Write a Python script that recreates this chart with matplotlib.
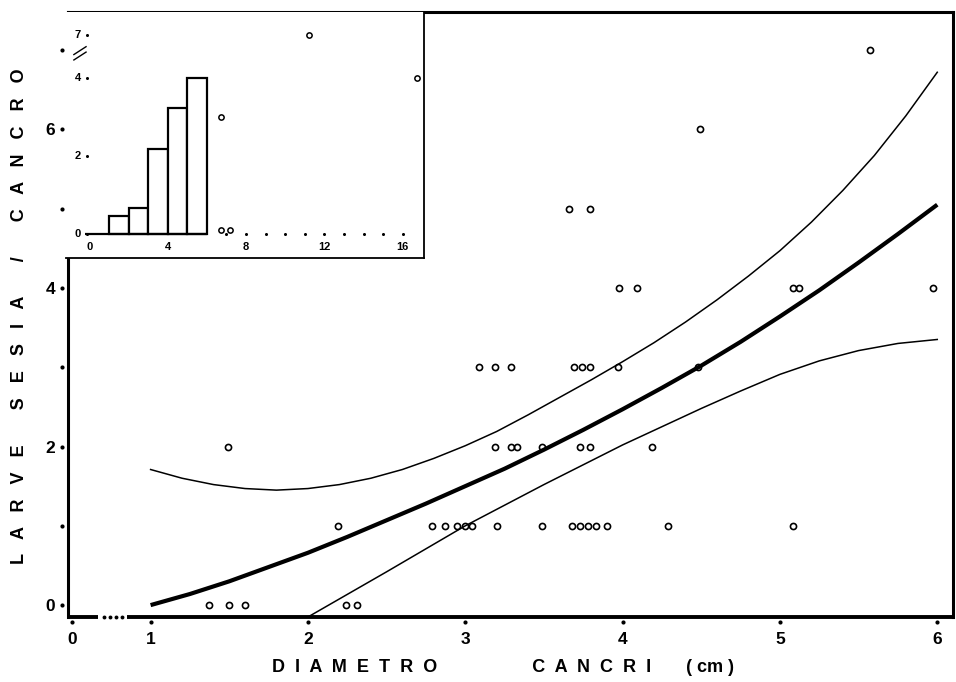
import numpy as np
import matplotlib
matplotlib.use("Agg")
import matplotlib.pyplot as plt

plt.rcParams['font.family'] = ['Liberation Sans', 'DejaVu Sans']

# Dati: diametro del cancro (cm) e larve di Sesia per cancro
diametro = [1.37, 1.50, 1.60, 2.24, 2.31,
            2.19, 2.79, 2.87, 2.95, 3.00, 3.04, 3.20, 3.49, 3.68, 3.73, 3.78, 3.83, 3.90, 4.29, 5.08,
            1.49, 3.19, 3.29, 3.33, 3.49, 3.73, 3.79, 4.19,
            3.09, 3.19, 3.29, 3.69, 3.74, 3.79, 3.97, 4.48,
            3.98, 4.09, 5.08, 5.12, 5.97,
            3.66, 3.79,
            4.49,
            5.57]
larve = [0, 0, 0, 0, 0,
         1, 1, 1, 1, 1, 1, 1, 1, 1, 1, 1, 1, 1, 1, 1,
         2, 2, 2, 2, 2, 2, 2, 2,
         3, 3, 3, 3, 3, 3, 3, 3,
         4, 4, 4, 4, 4,
         5, 5,
         6,
         7]

# curva di regressione e limiti di confidenza
curva_x = [1.0, 1.25, 1.5, 1.75, 2.0, 2.25, 2.5, 2.75, 3.0, 3.25, 3.5, 3.75, 4.0,
           4.25, 4.5, 4.75, 5.0, 5.25, 5.5, 5.75, 6.0]
curva_y = [0.0, 0.14, 0.30, 0.48, 0.66, 0.86, 1.07, 1.28, 1.50, 1.72, 1.96, 2.21, 2.47,
           2.74, 3.02, 3.32, 3.64, 3.97, 4.32, 4.68, 5.05]
sup_x = [1.0, 1.2, 1.4, 1.6, 1.8, 2.0, 2.2, 2.4, 2.6, 2.8, 3.0, 3.2, 3.4, 3.6, 3.8,
         4.0, 4.2, 4.4, 4.6, 4.8, 5.0, 5.2, 5.4, 5.6, 5.8, 6.0]
sup_y = [1.71, 1.60, 1.52, 1.47, 1.45, 1.47, 1.52, 1.60, 1.71, 1.85, 2.01, 2.19, 2.40, 2.62, 2.84,
         3.07, 3.31, 3.57, 3.85, 4.15, 4.47, 4.83, 5.23, 5.67, 6.17, 6.72]
inf_x = [2.0, 2.5, 3.0, 3.5, 4.0, 4.5, 4.75, 5.0, 5.25, 5.5, 5.75, 6.0]
inf_y = [-0.15, 0.42, 1.00, 1.52, 2.02, 2.48, 2.70, 2.91, 3.08, 3.21, 3.30, 3.35]

tick_x = [0, 1, 2, 3, 4, 5, 6]
tick_y = [0, 1, 2, 3, 4, 5, 6, 7]
etichette_y = [0, 2, 4, 6]

# riquadro piccolo (istogramma)
classi = [1, 2, 3, 4, 5]
medie = [0.47, 0.67, 2.19, 3.25, 4.03]
ins_x = [6.7, 6.7, 7.2, 11.2, 16.7]
ins_y = [3.0, 0.1, 0.1, 7.0, 4.0]
ins_tick_x = [0, 4, 8, 12, 16]
ins_tick_y = [0, 2, 4, 7]
ins_punti_asse = [7, 8, 9, 10, 11, 12, 13, 14, 15, 16]


def comprimi(x):
    # asse interrotto: da 0 a 1 occupa mezza unita
    x = np.asarray(x, dtype=float)
    return np.where(x < 1, 0.5 + 0.5 * x, x)


def espandi(d):
    d = np.asarray(d, dtype=float)
    return np.where(d < 1, (d - 0.5) * 2, d)


def taglia_y(y):
    y = np.asarray(y, dtype=float)
    return np.where(y <= 4, y, 4 + (y - 4) * 1.1 / 3)


def rimetti_y(d):
    d = np.asarray(d, dtype=float)
    return np.where(d <= 4, d, 4 + (d - 4) * 3 / 1.1)


fig = plt.figure(figsize=(9.56, 6.82), dpi=100, facecolor='white')
ax = fig.add_axes([68/956, 1-617/682, 885/956, 605/682])
ax.set_xscale('function', functions=(comprimi, espandi))
ax.set_xlim(-0.05, 6.10)
ax.set_ylim(-0.15, 7.48)

ax.plot(curva_x, curva_y, color='black', lw=3.0, solid_capstyle='butt', zorder=2)
ax.plot(sup_x, sup_y, color='black', lw=1.1, zorder=2)
ax.plot(inf_x, inf_y, color='black', lw=1.1, zorder=2)
ax.plot(diametro, larve, 'o', ms=4.4, mfc='none', mec='black', mew=1.2, ls='none', zorder=3)

# tacche a puntino
ax.set_xticks(tick_x)
ax.set_xticklabels([str(t) for t in tick_x])
ax.set_yticks(etichette_y)
ax.set_yticklabels([str(t) for t in etichette_y])
ax.minorticks_off()
ax.tick_params(length=0, labelsize=12.5)
ax.tick_params(axis='x', pad=11)
ax.tick_params(axis='y', pad=9)
for lab in ax.get_xticklabels() + ax.get_yticklabels():
    lab.set_fontweight('bold')
ax.plot(tick_x, [-0.009] * len(tick_x), 'o', ms=3.0, color='black', mew=0,
        transform=ax.get_xaxis_transform(), clip_on=False)
ax.plot([-0.007] * len(tick_y), tick_y, 'o', ms=3.0, color='black', mew=0,
        transform=ax.get_yaxis_transform(), clip_on=False)

# cornice spessa, asse x interrotto vicino a 0
for lato in ['top', 'right', 'left']:
    ax.spines[lato].set_linewidth(2.2)
ax.spines['bottom'].set_visible(False)
ax.plot([0, 0.034], [0, 0], color='black', lw=2.8, transform=ax.transAxes, clip_on=False,
        solid_capstyle='butt')
ax.plot([0.067, 1.0], [0, 0], color='black', lw=2.8, transform=ax.transAxes, clip_on=False,
        solid_capstyle='butt')
ax.plot([0.0405, 0.0475, 0.0545, 0.0610], [0, 0, 0, 0], 'o', ms=2.8, mew=0, color='black',
        transform=ax.transAxes, clip_on=False)

fig.text(503/956, 1-668/682, 'D  I  A  M  E  T  R  O' + ' ' * 19 + 'C  A  N  C  R  I' + ' ' * 7 + '( cm )',
         ha='center', va='center', fontsize=13, fontweight='bold')
fig.text(20/956, 1-316/682, 'L   A   R   V   E' + ' ' * 7 + 'S   E   S   I   A' + ' ' * 7 + '/' + ' ' * 7
         + 'C   A   N   C   R   O', ha='center', va='center', rotation=90, fontsize=13, fontweight='bold')

# riquadro in alto a sinistra
axi = fig.add_axes([66/956, 1-258/682, 358/956, 246/682])
axi.set_yscale('function', functions=(taglia_y, rimetti_y))
axi.set_xlim(-1.19, 17.08)
axi.set_ylim(-0.61, 8.64)
axi.set_facecolor('white')
axi.bar(classi, medie, width=1, align='edge', facecolor='white', edgecolor='black', lw=1.6, zorder=2)
axi.hlines(0, -0.2, classi[-1] + 1, color='black', lw=1.6, zorder=3)
axi.plot(ins_punti_asse, [0] * len(ins_punti_asse), 'o', ms=2.2, mew=0, color='black')
axi.plot(ins_x, ins_y, 'o', ms=3.8, mfc='none', mec='black', mew=1.1, ls='none')
axi.set_xticks([])
axi.set_yticks([])
axi.minorticks_off()
for v in ins_tick_x:
    axi.text(v, -0.32, str(v), ha='center', va='center', fontsize=8, fontweight='bold')
for v in ins_tick_y:
    axi.text(-0.42, v, str(v), ha='right', va='center', fontsize=8, fontweight='bold')
axi.plot([-0.14] * len(ins_tick_y), ins_tick_y, 'o', ms=2.2, mew=0, color='black')
# segno di interruzione //
axi.plot([0.022, 0.056], [0.805, 0.837], color='black', lw=1.0, transform=axi.transAxes)
axi.plot([0.022, 0.056], [0.827, 0.859], color='black', lw=1.0, transform=axi.transAxes)
axi.spines['top'].set_visible(False)
axi.spines['left'].set_visible(False)
axi.spines['right'].set_linewidth(1.3)
axi.spines['bottom'].set_linewidth(1.3)

fig.savefig('out.png', dpi=100, facecolor='white')
plt.close(fig)
